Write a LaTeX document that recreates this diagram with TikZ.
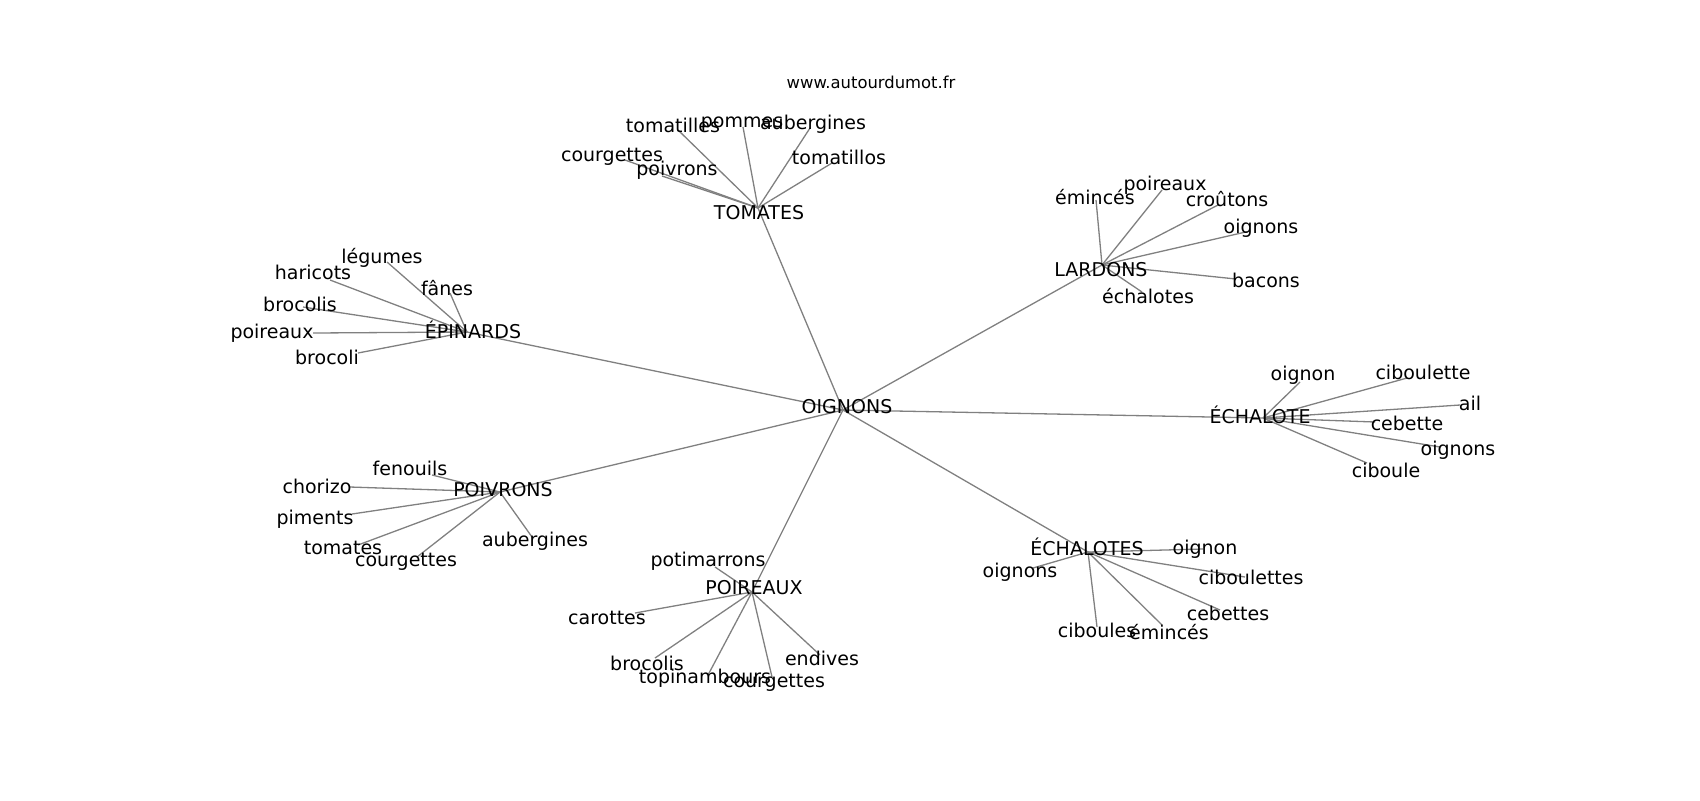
\documentclass[tikz,border=0pt]{standalone}
\usepackage{fontspec}
\setmainfont{DejaVu Sans}
\usepackage{tikz}
\usepackage{xcolor}
\definecolor{edgegray}{RGB}{128,128,128}

\begin{document}
\begin{tikzpicture}[
                x=0.5pt, y=-0.5pt,
                word/.style={inner sep=0pt, font=\fontsize{9.5}{11}\selectfont},
                site/.style={inner sep=0pt, font=\fontsize{8.2}{10}\selectfont},
                link/.style={draw=edgegray, line width=0.65pt}]
            \useasboundingbox (0,0) rectangle (1700,800);
            \node[site] (siteweb) at (871,82) {www.autourdumot.fr};

            \coordinate (oignons) at (843,410);
            \coordinate (tomates) at (758,208);
            \coordinate (lardons) at (1102,265);
            \coordinate (epinards) at (467,332);
            \coordinate (echalote) at (1263,418);
            \coordinate (poivrons) at (500,492);
            \coordinate (poireaux) at (752,592);
            \coordinate (echalotes) at (1088,552);

            \coordinate (tom1) at (678,130);
            \coordinate (tom2) at (743,127);
            \coordinate (tom3) at (810,128);
            \coordinate (tom4) at (625,160);
            \coordinate (tom5) at (662,176);
            \coordinate (tom6) at (832,163);

            \coordinate (lar1) at (1096,200);
            \coordinate (lar2) at (1162,190);
            \coordinate (lar3) at (1218,205);
            \coordinate (lar4) at (1250,231);
            \coordinate (lar5) at (1236,279);
            \coordinate (lar6) at (1142,292);

            \coordinate (epi1) at (387,262);
            \coordinate (epi2) at (330,280);
            \coordinate (epi3) at (450,293);
            \coordinate (epi4) at (303,307);
            \coordinate (epi5) at (313,333);
            \coordinate (epi6) at (358,353);

            \coordinate (ech1) at (1300,382);
            \coordinate (ech2) at (1407,378);
            \coordinate (ech3) at (1460,405);
            \coordinate (ech4) at (1375,422);
            \coordinate (ech5) at (1440,447);
            \coordinate (ech6) at (1367,463);

            \coordinate (poi1) at (432,475);
            \coordinate (poi2) at (350,487);
            \coordinate (poi3) at (352,514);
            \coordinate (poi4) at (358,545);
            \coordinate (poi5) at (417,557);
            \coordinate (poi6) at (532,537);

            \coordinate (por1) at (715,567);
            \coordinate (por2) at (635,613);
            \coordinate (por3) at (655,658);
            \coordinate (por4) at (708,675);
            \coordinate (por5) at (772,677);
            \coordinate (por6) at (820,655);

            \coordinate (ecs1) at (1203,549);
            \coordinate (ecs2) at (1245,577);
            \coordinate (ecs3) at (1220,610);
            \coordinate (ecs4) at (1097,627);
            \coordinate (ecs5) at (1162,625);
            \coordinate (ecs6) at (1033,568);

            \draw[link] (oignons) -- (tomates) (oignons) -- (lardons)
                (oignons) -- (epinards) (oignons) -- (echalote)
                (oignons) -- (poivrons) (oignons) -- (poireaux)
                (oignons) -- (echalotes);
            \foreach \i in {1,...,6} {
                \draw[link] (tomates) -- (tom\i);
                \draw[link] (lardons) -- (lar\i);
                \draw[link] (epinards) -- (epi\i);
                \draw[link] (echalote) -- (ech\i);
                \draw[link] (poivrons) -- (poi\i);
                \draw[link] (poireaux) -- (por\i);
                \draw[link] (echalotes) -- (ecs\i);
            }

            \node[word] (oignons-l) at (847,407) {OIGNONS};
            \node[word] (tomates-l) at (759,213) {TOMATES};
            \node[word] (lardons-l) at (1101,270) {LARDONS};
            \node[word] (epinards-l) at (473,330) {ÉPINARDS};
            \node[word] (echalote-l) at (1260,415) {ÉCHALOTE};
            \node[word] (poivrons-l) at (503,490) {POIVRONS};
            \node[word] (poireaux-l) at (754,588) {POIREAUX};
            \node[word] (echalotes-l) at (1087,547) {ÉCHALOTES};

            \node[word] (tom1-l) at (673,125) {tomatilles};
            \node[word] (tom2-l) at (742,124) {pommes};
            \node[word] (tom3-l) at (813,124) {aubergines};
            \node[word] (tom4-l) at (612,157) {courgettes};
            \node[word] (tom5-l) at (677,170) {poivrons};
            \node[word] (tom6-l) at (839,157) {tomatillos};

            \node[word] (lar1-l) at (1095,197) {émincés};
            \node[word] (lar2-l) at (1165,185) {poireaux};
            \node[word] (lar3-l) at (1227,199) {croûtons};
            \node[word] (lar4-l) at (1261,228) {oignons};
            \node[word] (lar5-l) at (1266,280) {bacons};
            \node[word] (lar6-l) at (1148,296) {échalotes};

            \node[word] (epi1-l) at (382,258) {légumes};
            \node[word] (epi2-l) at (313,272) {haricots};
            \node[word] (epi3-l) at (447,288) {fânes};
            \node[word] (epi4-l) at (300,304) {brocolis};
            \node[word] (epi5-l) at (272,333) {poireaux};
            \node[word] (epi6-l) at (327,357) {brocoli};

            \node[word] (ech1-l) at (1303,375) {oignon};
            \node[word] (ech2-l) at (1423,372) {ciboulette};
            \node[word] (ech3-l) at (1470,403) {ail};
            \node[word] (ech4-l) at (1407,423) {cebette};
            \node[word] (ech5-l) at (1458,450) {oignons};
            \node[word] (ech6-l) at (1386,470) {ciboule};

            \node[word] (poi1-l) at (410,468) {fenouils};
            \node[word] (poi2-l) at (317,486) {chorizo};
            \node[word] (poi3-l) at (315,519) {piments};
            \node[word] (poi4-l) at (343,548) {tomates};
            \node[word] (poi5-l) at (406,562) {courgettes};
            \node[word] (poi6-l) at (535,541) {aubergines};

            \node[word] (por1-l) at (708,561) {potimarrons};
            \node[word] (por2-l) at (607,618) {carottes};
            \node[word] (por3-l) at (647,663) {brocolis};
            \node[word] (por4-l) at (705,678) {topinambours};
            \node[word] (por5-l) at (774,683) {courgettes};
            \node[word] (por6-l) at (822,658) {endives};

            \node[word] (ecs1-l) at (1205,549) {oignon};
            \node[word] (ecs2-l) at (1251,577) {ciboulettes};
            \node[word] (ecs3-l) at (1228,613) {cebettes};
            \node[word] (ecs4-l) at (1097,630) {ciboules};
            \node[word] (ecs5-l) at (1169,632) {émincés};
            \node[word] (ecs6-l) at (1020,572) {oignons};
        \end{tikzpicture}
\end{document}
